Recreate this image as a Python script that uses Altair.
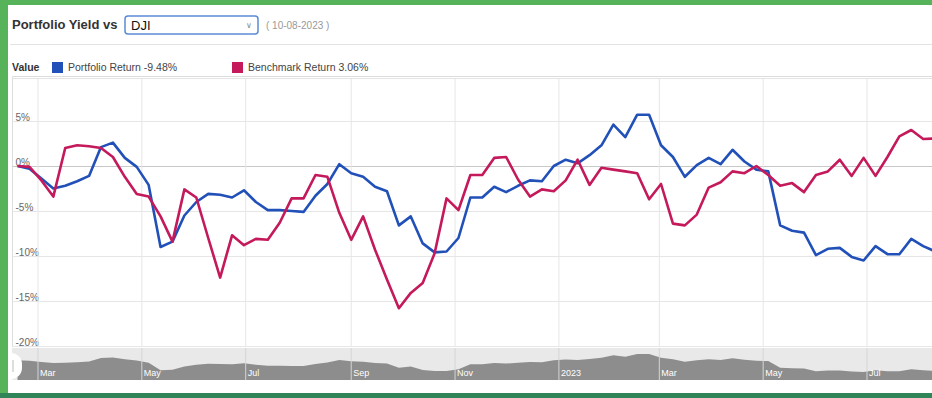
import altair as alt
import pandas as pd

# ---------------- data ----------------
START = "2022-02-17"   # weekly observations (Thursdays) up to 10-08-2023
portfolio = [0.0, -0.3, -1.4, -2.5, -2.2, -1.7, -1.1, 2.1, 2.6, 0.9,
             -0.1, -2.1, -9.0, -8.4, -5.5, -4.0, -3.1, -3.2, -3.5, -2.7,
             -4.0, -4.9, -4.9, -5.0, -5.1, -3.3, -2.0, 0.2, -0.8, -1.2,
             -2.3, -2.8, -6.6, -5.6, -8.6, -9.6, -9.5, -8.0, -3.5, -3.5,
             -2.3, -2.9, -2.2, -1.6, -1.7, 0.0, 0.7, 0.3, 1.2, 2.3,
             4.6, 3.2, 5.7, 5.7, 2.3, 1.0, -1.2, 0.1, 0.9, 0.2,
             1.8, 0.5, -0.4, -0.6, -6.6, -7.2, -7.4, -9.9, -9.2, -9.1,
             -10.1, -10.5, -8.9, -9.8, -9.8, -8.1, -8.9, -9.48]
benchmark = [0.0, -0.1, -1.6, -3.4, 2.0, 2.3, 2.2, 2.0, 1.0, -1.2,
             -3.1, -3.4, -5.6, -8.4, -2.6, -3.5, -8.0, -12.4, -7.7, -8.8,
             -8.1, -8.2, -6.3, -3.6, -3.6, -1.0, -1.2, -5.2, -8.2, -5.6,
             -9.3, -12.6, -15.8, -14.1, -13.0, -9.7, -3.6, -4.9, -1.0, -1.0,
             0.9, 1.0, -1.5, -3.4, -2.6, -2.8, -1.6, 0.7, -2.1, -0.2,
             -0.4, -0.6, -0.8, -3.7, -2.0, -6.4, -6.6, -5.4, -2.4, -1.8,
             -0.6, -0.8, 0.0, -1.0, -2.2, -1.9, -2.9, -1.0, -0.6, 0.7,
             -1.1, 0.9, -1.1, 1.0, 3.3, 4.0, 3.0, 3.06]
month_ticks = ["2022-03-01", "2022-05-01", "2022-07-01", "2022-09-01", "2022-11-01",
               "2023-01-01", "2023-03-01", "2023-05-01", "2023-07-01"]
nav_labels = ["Mar", "May", "Jul", "Sep", "Nov", "2023", "Mar", "May", "Jul"]
y_ticks = [-20, -15, -10, -5, 0, 5]
series_names = ["Portfolio Return -9.48%", "Benchmark Return 3.06%"]
series_colors = ["#2150b8", "#c4195a"]

dates = pd.date_range(START, periods=len(portfolio), freq="7D").strftime("%Y-%m-%dT00:00:00")
df = pd.DataFrame({"date": list(dates), "portfolio": portfolio, "benchmark": benchmark})
tick_df = pd.DataFrame({"date": [d + "T00:00:00" for d in month_ticks], "label": nav_labels})

FONT = "Liberation Sans"
W, H = 920, 270
# navigator strip: portfolio range [-17.7, 7.5] shown in a 28px strip below the plot,
# expressed in units of the main y scale (9 px per %).
NAV_BASE = 10 - 304 / 9.0
NAV_K = (28 / 25.2) / 9.0


def dt(s, h=0, m=0):
    y, mo, d = map(int, s.split("-"))
    return alt.DateTime(year=y, month=mo, date=d, hours=h, minutes=m)


x_scale = alt.Scale(domain=[dt("2022-02-13", 17, 30), dt("2023-08-08", 4, 20)])
X = alt.X("date:T", scale=x_scale, axis=None)

y_scale = alt.Scale(domain=[-20, 10], nice=False, zero=False)
y_axis = alt.Axis(values=y_ticks, labelExpr="datum.value + '%'", orient="left",
                  labelAlign="left", labelBaseline="alphabetic", labelPadding=-3,
                  labelOffset=-1, labelFont=FONT, labelFontSize=10, labelColor="#666",
                  ticks=False, domain=False, grid=True, title=None,
                  gridColor=alt.condition("datum.value === 0", alt.value("#c8c8c8"), alt.value("#e6e6e6")))


def one():
    return pd.DataFrame({"a": [0]})


def txt(text, x, y, size, color, weight="normal", font=FONT):
    return alt.Chart(pd.DataFrame({"t": [text]})).mark_text(
        align="left", baseline="alphabetic", fontSize=size, color=color,
        fontWeight=weight, font=font).encode(x=alt.value(x), y=alt.value(y), text="t:N")


def box(x1, x2, y1, y2, fill, **kw):
    return alt.Chart(one()).mark_rect(fill=fill, **kw).encode(
        x=alt.value(x1), x2=alt.value(x2), y=alt.value(y1), y2=alt.value(y2))


layers = []
# vertical month grid of the main plot
layers.append(alt.Chart(tick_df).mark_rule(color="#e6e6e6", strokeWidth=1).encode(
    x=X, y=alt.value(2), y2=alt.value(H)))

blue = alt.Chart(df).mark_line(color=series_colors[0], strokeWidth=2.6, clip=True,
                               strokeJoin="round").encode(
    x=X, y=alt.Y("portfolio:Q", scale=y_scale, axis=y_axis))
red = alt.Chart(df).mark_line(color=series_colors[1], strokeWidth=2.6, clip=True,
                              strokeJoin="round").encode(
    x=X, y=alt.Y("benchmark:Q", scale=y_scale, axis=y_axis))

# header
layers.append(txt("Portfolio Yield vs", 0, -47, 13, "#333", "bold"))
layers.append(box(113, 246, -60, -42, "white", stroke="#5a8ad8", strokeWidth=1.5, cornerRadius=3))
layers.append(txt("DJI", 119, -46, 13, "#111"))
layers.append(txt("∨", 234, -48, 8, "#888", font="DejaVu Sans"))
layers.append(txt("( 10-08-2023 )", 254, -47, 10, "#999"))
layers.append(box(-2, 920, -32, -31, "#e3e3e3"))
# legend
layers.append(txt("Value", 0, -5, 10.5, "#333", "bold"))
layers.append(box(40, 51, -14, -3, series_colors[0]))
layers.append(txt(series_names[0], 56, -5, 10.5, "#444"))
layers.append(box(220, 231, -14, -3, series_colors[1]))
layers.append(txt(series_names[1], 236, -5, 10.5, "#444"))
layers.append(box(0, 920, 2, 3, "#e4e4e4"))

# navigator
layers.append(box(0, 920, 272, 304, "#e9e9e9"))
layers.append(alt.Chart(df).transform_calculate(
    nav=f"{NAV_BASE} + (datum.portfolio + 17.7) * {NAV_K}"
).mark_area(color="#8d8d8d", opacity=1).encode(
    x=X, y=alt.Y("nav:Q", scale=y_scale, axis=y_axis), y2=alt.datum(NAV_BASE)))
layers.append(alt.Chart(tick_df).mark_rule(color="#d5d5d5", strokeWidth=1).encode(
    x=X, y=alt.value(272), y2=alt.value(304)))
layers.append(alt.Chart(tick_df).mark_text(align="left", baseline="alphabetic", dx=2,
                                           fontSize=9, color="white", font=FONT).encode(
    x=X, y=alt.value(300), text="label:N"))
layers.append(box(-12, 10, 277, 303, "white", cornerRadius=12))
layers.append(box(0.5, 1.5, 284, 296, "#bbbbbb"))

layers.append(blue)
layers.append(red)

# green frame
layers.append(box(-12, -4, -76, 322, "#56b35a"))
layers.append(box(-12, 920, -76, -71, "#56b35a"))
layers.append(box(-12, 920, 317, 322, "#2f8458"))

chart = alt.layer(*layers).properties(
    width=W, height=H,
    padding={"left": 12, "top": 76, "right": 0, "bottom": 52},
    autosize=alt.AutoSizeParams(type="none"),
).configure_view(stroke=None).configure(background="white", font=FONT)

chart.save("out.html", embed_options={"renderer": "svg", "actions": False})
